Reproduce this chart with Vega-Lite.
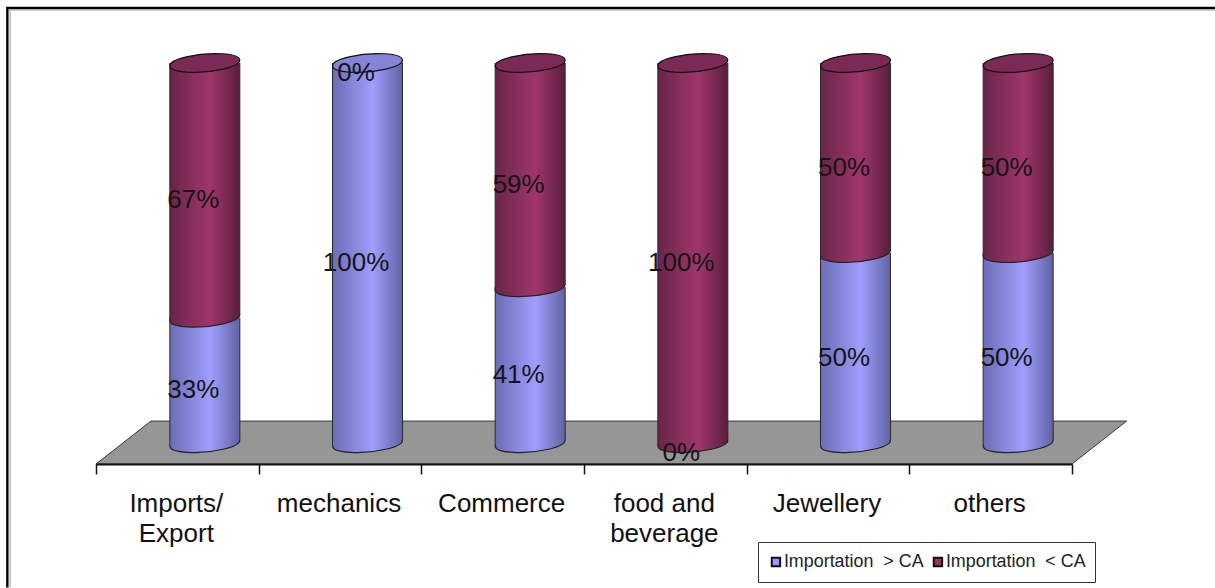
{
  "$schema": "https://vega.github.io/schema/vega-lite/v6.json",
  "width": 976,
  "height": 401,
  "padding": {"left": 96, "top": 63, "right": 143, "bottom": 124},
  "autosize": {"type": "none"},
  "background": "white",
  "view": {"stroke": null},
  "config": {"font": "Liberation Sans"},
  "datasets": {
    "shares": [
      {"sector": "Imports/ Export", "series": "Importation  > CA", "rank": 1, "share": 0.33},
      {"sector": "Imports/ Export", "series": "Importation  < CA", "rank": 2, "share": 0.67},
      {"sector": "mechanics", "series": "Importation  > CA", "rank": 1, "share": 1},
      {"sector": "mechanics", "series": "Importation  < CA", "rank": 2, "share": 0},
      {"sector": "Commerce", "series": "Importation  > CA", "rank": 1, "share": 0.41},
      {"sector": "Commerce", "series": "Importation  < CA", "rank": 2, "share": 0.59},
      {"sector": "food and beverage", "series": "Importation  > CA", "rank": 1, "share": 0},
      {"sector": "food and beverage", "series": "Importation  < CA", "rank": 2, "share": 1},
      {"sector": "Jewellery", "series": "Importation  > CA", "rank": 1, "share": 0.5},
      {"sector": "Jewellery", "series": "Importation  < CA", "rank": 2, "share": 0.5},
      {"sector": "others", "series": "Importation  > CA", "rank": 1, "share": 0.5},
      {"sector": "others", "series": "Importation  < CA", "rank": 2, "share": 0.5}
    ],
    "floor": [
      {"u": 0, "back": -0.055, "front": -0.055},
      {"u": 0.338, "back": 0.0579, "front": -0.055},
      {"u": 6, "back": 0.0579, "front": -0.055},
      {"u": 6.336, "back": 0.0579, "front": 0.0579}
    ],
    "frameOuter": [
      {"seq": 1, "u": -0.545, "v": -0.38},
      {"seq": 2, "u": -0.545, "v": 1.1447},
      {"seq": 3, "u": 6.88, "v": 1.1447}
    ],
    "frameInner": [
      {"seq": 1, "u": -0.528, "v": -0.38},
      {"seq": 2, "u": -0.528, "v": 1.1395},
      {"seq": 3, "u": 6.88, "v": 1.1395}
    ]
  },
  "resolve": {"scale": {"x": "independent"}, "axis": {"x": "independent"}},
  "layer": [
    {
      "data": {"name": "floor"},
      "mark": {"type": "area", "color": "#969696", "stroke": "#3a3a3a", "strokeWidth": 1},
      "encoding": {
        "x": {"field": "u", "type": "quantitative", "axis": null, "scale": {"domain": [0, 6], "nice": false, "zero": false}},
        "y": {"field": "back", "type": "quantitative", "axis": null, "scale": {"domain": [-0.055, 1], "nice": false, "zero": false}},
        "y2": {"field": "front"}
      }
    },
    {
      "data": {"name": "shares"},
      "transform": [
        {"stack": "share", "groupby": ["sector"], "sort": [{"field": "rank", "order": "ascending"}], "as": ["y0", "y1"]},
        {"calculate": "(datum.y0 + datum.y1) / 2", "as": "mid"}
      ],
      "encoding": {
        "x": {
          "field": "sector",
          "type": "nominal",
          "sort": null,
          "scale": {
            "domain": ["Imports/ Export", "mechanics", "Commerce", "food and beverage", "Jewellery", "others"],
            "paddingInner": 0,
            "paddingOuter": 0
          },
          "axis": {
            "title": null,
            "zindex": 1,
            "labelAngle": 0,
            "labelFont": "Liberation Sans",
            "labelFontSize": 26,
            "labelColor": "#111111",
            "labelLineHeight": 30,
            "labelPadding": 16,
            "labelOffset": -1.5,
            "labelBaseline": "top",
            "labelExpr": "datum.label == 'Imports/ Export' ? ['Imports/', 'Export'] : datum.label == 'food and beverage' ? ['food and', 'beverage'] : datum.label",
            "domainColor": "#111111",
            "domainWidth": 2,
            "tickColor": "#111111",
            "tickWidth": 1.5,
            "tickSize": 10,
            "tickBand": "extent",
            "labelOverlap": false,
            "labelBound": false,
            "labelFlush": false,
            "grid": false
          }
        }
      },
      "layer": [
        {
          "transform": [{"filter": "datum.share > 0"}],
          "mark": {"type": "point", "filled": true, "size": 4000, "xOffset": 28, "opacity": 1, "shape": "M-0.996 0.087A1 0.25 -5 1 1 0.996 -0.087A1 0.25 -5 1 1 -0.996 0.087Z"},
          "encoding": {
            "y": {"field": "y0", "type": "quantitative", "axis": null, "scale": {"domain": [-0.055, 1], "nice": false, "zero": false}},
            "color": {
              "field": "series",
              "type": "nominal",
              "sort": null,
              "scale": {"domain": ["Importation  > CA", "Importation  < CA"], "range": ["#9999FF", "#993366"]},
              "legend": {
                "title": null,
                "orient": "none",
                "legendX": 662,
                "legendY": 479,
                "direction": "horizontal",
                "columns": 2,
                "symbolType": "square",
                "symbolSize": 70,
                "symbolStrokeColor": "#111111",
                "symbolStrokeWidth": 2,
                "labelFont": "Liberation Sans",
                "labelFontSize": 17.9,
                "labelColor": "#222222",
                "labelOffset": -1,
                "columnPadding": 5,
                "padding": 9,
                "clipHeight": 22,
                "strokeColor": "#333333",
                "fillColor": "white",
                "labelLimit": 200,
                "labelExpr": "replace(datum.label, '  ', ' \u00a0')"
              }
            }
          }
        },
        {
          "transform": [{"filter": "datum.rank == 1 && datum.share > 0"}],
          "mark": {"type": "point", "filled": true, "size": 4900, "xOffset": 27.5, "stroke": "#222222", "strokeWidth": 1.2, "opacity": 1, "fill": {"gradient": "linear", "x1": 0, "x2": 1, "y1": 0, "y2": 0, "stops": [{"offset": 0, "color": "#6c6cb6"}, {"offset": 0.57, "color": "#9f9fff"}, {"offset": 1, "color": "#6262a4"}]}, "shape": "M-0.996 0.087A1 0.25 -5 1 1 0.996 -0.087A1 0.25 -5 1 1 -0.996 0.087Z"},
          "encoding": {
            "y": {"field": "y0", "type": "quantitative", "axis": null, "scale": {"domain": [-0.055, 1], "nice": false, "zero": false}}
          }
        },
        {
          "transform": [{"filter": "datum.rank == 1"}],
          "mark": {"type": "bar", "size": 41, "xOffset": 13, "yOffset": 3, "fill": {"gradient": "linear", "x1": 0, "x2": 1, "y1": 0, "y2": 0, "stops": [{"offset": 0, "color": "#6c6cb6"}, {"offset": 1, "color": "#9f9fff"}]}},
          "encoding": {
            "y": {"field": "y0", "type": "quantitative", "axis": null, "scale": {"domain": [-0.055, 1], "nice": false, "zero": false}},
            "y2": {"field": "y1"}
          }
        },
        {
          "transform": [{"filter": "datum.rank == 1"}],
          "mark": {"type": "bar", "size": 30, "xOffset": 47.5, "yOffset": -3, "fill": {"gradient": "linear", "x1": 0, "x2": 1, "y1": 0, "y2": 0, "stops": [{"offset": 0, "color": "#9f9fff"}, {"offset": 1, "color": "#6262a4"}]}},
          "encoding": {
            "y": {"field": "y0", "type": "quantitative", "axis": null, "scale": {"domain": [-0.055, 1], "nice": false, "zero": false}},
            "y2": {"field": "y1"}
          }
        },
        {
          "transform": [{"filter": "datum.rank == 2 && datum.share > 0"}],
          "mark": {"type": "point", "filled": true, "size": 4900, "xOffset": 27.5, "stroke": "#222222", "strokeWidth": 1.2, "opacity": 1, "fill": {"gradient": "linear", "x1": 0, "x2": 1, "y1": 0, "y2": 0, "stops": [{"offset": 0, "color": "#6a2548"}, {"offset": 0.57, "color": "#a0366c"}, {"offset": 1, "color": "#5a1e3c"}]}, "shape": "M-0.996 0.087A1 0.25 -5 1 1 0.996 -0.087A1 0.25 -5 1 1 -0.996 0.087Z"},
          "encoding": {
            "y": {"field": "y0", "type": "quantitative", "axis": null, "scale": {"domain": [-0.055, 1], "nice": false, "zero": false}}
          }
        },
        {
          "transform": [{"filter": "datum.rank == 2"}],
          "mark": {"type": "bar", "size": 41, "xOffset": 13, "yOffset": 3, "fill": {"gradient": "linear", "x1": 0, "x2": 1, "y1": 0, "y2": 0, "stops": [{"offset": 0, "color": "#6a2548"}, {"offset": 1, "color": "#a0366c"}]}},
          "encoding": {
            "y": {"field": "y0", "type": "quantitative", "axis": null, "scale": {"domain": [-0.055, 1], "nice": false, "zero": false}},
            "y2": {"field": "y1"}
          }
        },
        {
          "transform": [{"filter": "datum.rank == 2"}],
          "mark": {"type": "bar", "size": 30, "xOffset": 47.5, "yOffset": -3, "fill": {"gradient": "linear", "x1": 0, "x2": 1, "y1": 0, "y2": 0, "stops": [{"offset": 0, "color": "#a0366c"}, {"offset": 1, "color": "#5a1e3c"}]}},
          "encoding": {
            "y": {"field": "y0", "type": "quantitative", "axis": null, "scale": {"domain": [-0.055, 1], "nice": false, "zero": false}},
            "y2": {"field": "y1"}
          }
        },
        {
          "transform": [{"filter": "datum.share > 0"}],
          "mark": {"type": "rule", "xOffset": -7.5, "yOffset": 3, "color": "#2a2a2a", "strokeWidth": 1},
          "encoding": {
            "y": {"field": "y0", "type": "quantitative", "axis": null, "scale": {"domain": [-0.055, 1], "nice": false, "zero": false}},
            "y2": {"field": "y1"}
          }
        },
        {
          "transform": [{"filter": "datum.share > 0"}],
          "mark": {"type": "rule", "xOffset": 62.5, "yOffset": -3, "color": "#2a2a2a", "strokeWidth": 1},
          "encoding": {
            "y": {"field": "y0", "type": "quantitative", "axis": null, "scale": {"domain": [-0.055, 1], "nice": false, "zero": false}},
            "y2": {"field": "y1"}
          }
        },
        {
          "transform": [{"filter": "datum.share > 0 && datum.y1 > 0.999 && datum.rank == 2"}],
          "mark": {"type": "point", "filled": true, "size": 4900, "xOffset": 27.5, "stroke": "#111111", "strokeWidth": 1.2, "opacity": 1, "fill": "#7a2a55", "shape": "M-0.996 0.087A1 0.25 -5 1 1 0.996 -0.087A1 0.25 -5 1 1 -0.996 0.087Z"},
          "encoding": {
            "y": {"field": "y1", "type": "quantitative", "axis": null, "scale": {"domain": [-0.055, 1], "nice": false, "zero": false}}
          }
        },
        {
          "transform": [{"filter": "datum.share > 0 && datum.y1 > 0.999 && datum.rank == 1"}],
          "mark": {"type": "point", "filled": true, "size": 4900, "xOffset": 27.5, "stroke": "#111111", "strokeWidth": 1.2, "opacity": 1, "fill": "#8484d8", "shape": "M-0.996 0.087A1 0.25 -5 1 1 0.996 -0.087A1 0.25 -5 1 1 -0.996 0.087Z"},
          "encoding": {
            "y": {"field": "y1", "type": "quantitative", "axis": null, "scale": {"domain": [-0.055, 1], "nice": false, "zero": false}}
          }
        },
        {
          "mark": {"type": "text", "xOffset": 16, "yOffset": 10, "font": "Liberation Sans", "fontSize": 26, "color": "#151515", "align": "center", "baseline": "middle"},
          "encoding": {
            "y": {"field": "mid", "type": "quantitative", "axis": null, "scale": {"domain": [-0.055, 1], "nice": false, "zero": false}},
            "text": {"field": "share", "type": "quantitative", "format": ".0%"}
          }
        }
      ]
    },
    {
      "data": {"name": "frameOuter"},
      "mark": {"type": "line", "color": "#000000", "strokeWidth": 2.4, "clip": false},
      "encoding": {
        "x": {"field": "u", "type": "quantitative", "axis": null, "scale": {"domain": [0, 6], "nice": false, "zero": false}},
        "y": {"field": "v", "type": "quantitative", "axis": null, "scale": {"domain": [-0.055, 1], "nice": false, "zero": false}},
        "order": {"field": "seq"}
      }
    },
    {
      "data": {"name": "frameInner"},
      "mark": {"type": "line", "color": "#9a9a9a", "strokeWidth": 1, "clip": false},
      "encoding": {
        "x": {"field": "u", "type": "quantitative", "axis": null, "scale": {"domain": [0, 6], "nice": false, "zero": false}},
        "y": {"field": "v", "type": "quantitative", "axis": null, "scale": {"domain": [-0.055, 1], "nice": false, "zero": false}},
        "order": {"field": "seq"}
      }
    }
  ]
}
